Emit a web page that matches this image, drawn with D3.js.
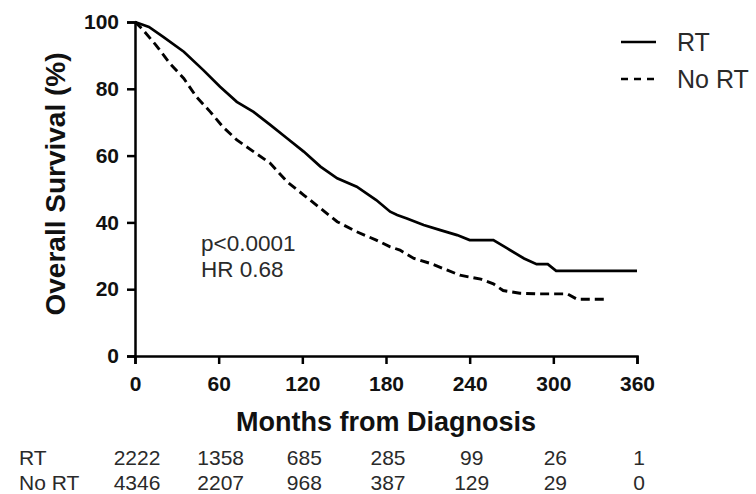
<!DOCTYPE html>
<html>
<head>
<meta charset="utf-8">
<script src="https://cdn.jsdelivr.net/npm/d3@7"></script>
<style>
  body { margin: 0; background: #fff; }
  svg { display: block; }
  .axis path, .axis line { stroke: #000; stroke-width: 2.5; }
  .axis text { font-family: "Liberation Sans", Arial, sans-serif; font-weight: bold; font-size: 21px; fill: #111; }
  .title { font-family: "Liberation Sans", Arial, sans-serif; font-weight: bold; font-size: 27px; fill: #111; }
  .plain { font-family: "Liberation Sans", Arial, sans-serif; font-size: 21px; fill: #2a2a2a; }
</style>
</head>
<body>
<div id="chart"></div>
<script>
"use strict";

// values (months, % alive)
var rtMonths   = [0, 10, 20, 35, 49, 61, 73, 85, 97, 109, 121, 133, 145, 159, 173, 183, 188, 195, 207, 219, 231, 240, 257, 267, 279, 288, 296, 302, 360];
var rtSurv     = [100, 98.5, 95.6, 91.1, 85.6, 80.6, 76.1, 73.1, 69.2, 65.2, 61.2, 56.7, 53.2, 50.7, 46.7, 43.2, 42.2, 41.2, 39.2, 37.7, 36.2, 34.7, 34.7, 32.2, 29.2, 27.5, 27.5, 25.5, 25.5];
var noRtMonths = [0, 5, 15, 25, 35, 44, 54, 63, 73, 85, 97, 109, 121, 133, 145, 159, 173, 183, 190, 200, 212, 224, 233, 248, 257, 264, 276, 288, 310, 317, 337];
var noRtSurv   = [100, 98, 93.1, 87.6, 83.1, 77.6, 73.1, 68.6, 64.7, 61.2, 57.7, 52.2, 48.2, 44.2, 40.2, 37.2, 34.7, 32.7, 31.7, 29.2, 27.7, 25.7, 24.2, 23, 21.6, 19.6, 18.8, 18.6, 18.6, 17, 17];

var xTicks = [0, 60, 120, 180, 240, 300, 360];
var yTicks = [0, 20, 40, 60, 80, 100];

var seriesNames = ["RT", "No RT"];
var rtAtRisk   = [2222, 1358, 685, 285, 99, 26, 1];
var noRtAtRisk = [4346, 2207, 968, 387, 129, 29, 0];

var statLines = ["p<0.0001", "HR 0.68"];

var width = 756,
    height = 494,
    margin = { top: 22, right: 119, bottom: 138, left: 135 },
    w = width - margin.left - margin.right,
    h = height - margin.top - margin.bottom;

var x = d3.scaleLinear().domain([0, 360]).range([0, w]),
    y = d3.scaleLinear().domain([0, 100]).range([h, 0]);

var svg = d3.select("#chart").append("svg")
    .attr("width", width)
    .attr("height", height);

svg.append("rect").attr("width", width).attr("height", height).attr("fill", "#fff");

var g = svg.append("g")
    .attr("transform", "translate(" + margin.left + "," + margin.top + ")");

// axes
g.append("g")
    .attr("class", "axis")
    .attr("transform", "translate(0," + h + ")")
    .call(d3.axisBottom(x).tickValues(xTicks).tickSize(8).tickPadding(12));

g.append("g")
    .attr("class", "axis")
    .call(d3.axisLeft(y).tickValues(yTicks).tickSize(8).tickPadding(8));

svg.append("text")
    .attr("class", "title")
    .attr("text-anchor", "middle")
    .style("font-size", "28px")
    .attr("transform", "translate(65,184) rotate(-90)")
    .text("Overall Survival (%)");

svg.append("text")
    .attr("class", "title")
    .attr("text-anchor", "middle")
    .attr("x", margin.left + w / 2)
    .attr("y", 431)
    .text("Months from Diagnosis");

// survival curves
var line = d3.line()
    .x(function(d) { return x(d[0]); })
    .y(function(d) { return y(d[1]); });

var rtData = d3.zip(rtMonths, rtSurv),
    noRtData = d3.zip(noRtMonths, noRtSurv);

g.append("path")
    .datum(rtData)
    .attr("d", line)
    .attr("fill", "none")
    .attr("stroke", "#000")
    .attr("stroke-width", 2.7);

g.append("path")
    .datum(noRtData)
    .attr("d", line)
    .attr("fill", "none")
    .attr("stroke", "#000")
    .attr("stroke-width", 2.9)
    .attr("stroke-dasharray", "9,5");

// stats text
g.selectAll(".stat")
    .data(statLines)
  .enter().append("text")
    .attr("class", "plain stat")
    .attr("x", 66)
    .attr("y", function(d, i) { return 229 + i * 26; })
    .style("font-size", "22.5px")
    .text(function(d) { return d; });

// legend
var legend = svg.selectAll(".legend")
    .data(seriesNames)
  .enter().append("g")
    .attr("class", "legend")
    .attr("transform", function(d, i) { return "translate(621," + (42 + i * 37) + ")"; });

legend.append("line")
    .attr("x1", 0).attr("x2", 35)
    .attr("stroke", "#000")
    .attr("stroke-width", 2.7)
    .attr("stroke-dasharray", function(d, i) { return i ? "7,6" : null; });

legend.append("text")
    .attr("class", "plain")
    .attr("x", 56)
    .attr("dy", "0.36em")
    .style("font-size", "25px")
    .text(function(d) { return d; });

// number at risk table
var rows = [rtAtRisk, noRtAtRisk];
rows.forEach(function(vals, r) {
  var ry = 465 + r * 25;
  svg.append("text")
      .attr("class", "plain")
      .attr("x", 19)
      .attr("y", ry)
      .text(seriesNames[r]);
  svg.selectAll(".risk" + r)
      .data(vals)
    .enter().append("text")
      .attr("class", "plain risk" + r)
      .attr("text-anchor", "middle")
      .attr("x", function(d, i) { return margin.left + x(xTicks[i]) + 2; })
      .attr("y", ry)
      .text(function(d) { return d; });
});
</script>
</body>
</html>
